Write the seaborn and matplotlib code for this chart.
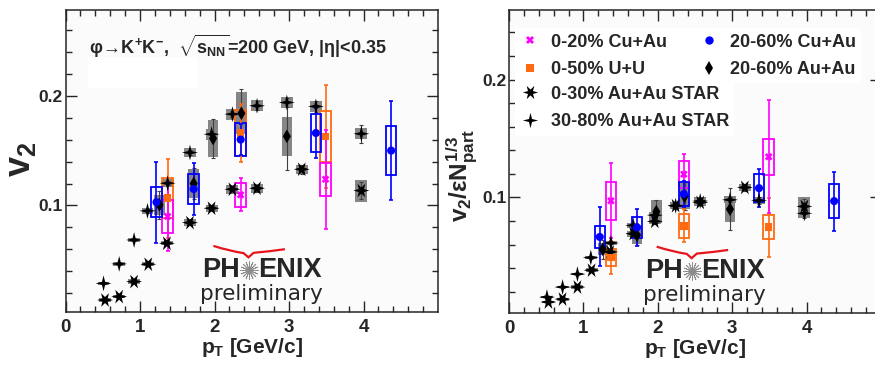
import matplotlib
matplotlib.use('Agg')
import matplotlib.pyplot as plt
import matplotlib.ticker as ticker
from matplotlib import font_manager
from matplotlib.lines import Line2D
from matplotlib.patches import PathPatch, Rectangle
from matplotlib.path import Path
import seaborn as sns
import pandas as pd
import numpy as np

# ---- dados (pT em GeV/c) ----
PT_CUAU_0_20 = [1.37, 2.35, 3.49]
PT_UU = [1.37, 2.35, 3.49]
PT_CUAU_20_60 = [1.22, 1.72, 2.35, 3.36, 4.37]
PT_AUAU = [1.26, 1.72, 1.98, 2.36, 2.97]
PT_STAR_0_30 = [0.53, 0.72, 0.92, 1.11, 1.36, 1.67, 1.96, 2.24, 2.57, 3.17, 3.97]
PT_STAR_30_80 = [0.51, 0.72, 0.92, 1.10, 1.37, 1.67, 1.96, 2.24, 2.57, 2.97, 3.36, 3.97]

# painel esquerdo: v2
V2_CUAU_0_20 = [0.0900, 0.1097, 0.1239]
V2_CUAU_0_20_STAT = [0.031, 0.015, 0.045]
V2_CUAU_0_20_SYS = [0.015, 0.011, 0.015]
V2_UU = [0.1066, 0.1660, 0.1628]
V2_UU_STAT = [0.036, 0.026, 0.047]
V2_UU_SYS = [0.018, 0.021, 0.023]
V2_CUAU_20_60 = [0.1030, 0.1150, 0.1600, 0.1660, 0.1500]
V2_CUAU_20_60_STAT = [0.037, 0.024, 0.014, 0.023, 0.045]
V2_CUAU_20_60_SYS = [0.0135, 0.0135, 0.015, 0.017, 0.022]
V2_AUAU = [0.1005, 0.1200, 0.1610, 0.1840, 0.1630]
V2_AUAU_STAT = [0.013, 0.014, 0.018, 0.022, 0.031]
V2_AUAU_SYS = [0.009, 0.013, 0.017, 0.019, 0.018]
V2_STAR_0_30 = [0.0139, 0.0170, 0.0307, 0.0465, 0.0656, 0.0844, 0.0975, 0.1148, 0.1157, 0.1330, 0.1136]
V2_STAR_0_30_STAT = [0.001, 0.001, 0.001, 0.001, 0.002, 0.002, 0.002, 0.002, 0.003, 0.004, 0.008]
V2_STAR_0_30_SYS = [0.0015, 0.0015, 0.002, 0.002, 0.002, 0.003, 0.003, 0.004, 0.004, 0.004, 0.010]
V2_STAR_30_80 = [0.0291, 0.0468, 0.0686, 0.0951, 0.1203, 0.1482, 0.1649, 0.1832, 0.1908, 0.1938, 0.1902, 0.1653]
V2_STAR_30_80_STAT = [0.001, 0.001, 0.001, 0.002, 0.002, 0.002, 0.003, 0.003, 0.004, 0.004, 0.005, 0.008]
V2_STAR_30_80_SYS = [0.0015, 0.0015, 0.002, 0.003, 0.0035, 0.004, 0.005, 0.005, 0.005, 0.005, 0.005, 0.005]

# painel direito: v2 / (eps * Npart^1/3)
SC_CUAU_0_20 = [0.0972, 0.1197, 0.1345]
SC_CUAU_0_20_STAT = [0.032, 0.017, 0.048]
SC_CUAU_0_20_SYS = [0.016, 0.0115, 0.0155]
SC_UU = [0.0490, 0.0758, 0.0749]
SC_UU_STAT = [0.014, 0.014, 0.025]
SC_UU_SYS = [0.0075, 0.0105, 0.010]
SC_CUAU_20_60 = [0.0665, 0.0746, 0.1030, 0.1079, 0.0969]
SC_CUAU_20_60_STAT = [0.025, 0.016, 0.011, 0.016, 0.025]
SC_CUAU_20_60_SYS = [0.009, 0.0087, 0.010, 0.012, 0.0144]
SC_AUAU = [0.0560, 0.0680, 0.0880, 0.1010, 0.0900]
SC_AUAU_STAT = [0.008, 0.008, 0.010, 0.012, 0.018]
SC_AUAU_SYS = [0.005, 0.0075, 0.0095, 0.011, 0.0105]
SC_STAR_0_30 = [0.0113, 0.0138, 0.0240, 0.0383, 0.0538, 0.0693, 0.0797, 0.0930, 0.0958, 0.1085, 0.0924]
SC_STAR_0_30_STAT = [0.001, 0.001, 0.001, 0.001, 0.0015, 0.0015, 0.002, 0.002, 0.0025, 0.003, 0.006]
SC_STAR_0_30_SYS = [0.0012, 0.0012, 0.0015, 0.0015, 0.002, 0.0025, 0.0025, 0.003, 0.003, 0.003, 0.008]
SC_STAR_30_80 = [0.0155, 0.0240, 0.0350, 0.0490, 0.0614, 0.0763, 0.0850, 0.0930, 0.0970, 0.0980, 0.0975, 0.0865]
SC_STAR_30_80_STAT = [0.001, 0.001, 0.001, 0.001, 0.001, 0.0015, 0.0015, 0.002, 0.002, 0.002, 0.003, 0.004]
SC_STAR_30_80_SYS = [0.001, 0.001, 0.001, 0.0015, 0.002, 0.002, 0.0025, 0.003, 0.003, 0.003, 0.003, 0.004]

LABELS = ['0-20% Cu+Au', '0-50% U+U', '20-60% Cu+Au', '20-60% Au+Au',
          '0-30% Au+Au STAR', '30-80% Au+Au STAR']


def estrela(n, r_in, rot):
    # marcador em forma de estrela com pontas finas
    ang = np.deg2rad(rot) + np.arange(2 * n) * np.pi / n
    r = np.where(np.arange(2 * n) % 2 == 0, 1.0, r_in)
    v = np.column_stack([r * np.cos(ang), r * np.sin(ang)])
    v = np.vstack([v, v[:1]])
    return Path(v, closed=True)


CORES = {LABELS[0]: '#ff00ff', LABELS[1]: '#ff6a10', LABELS[2]: '#0000ff',
         LABELS[3]: 'black', LABELS[4]: 'black', LABELS[5]: 'black'}
MARCADORES = {LABELS[0]: 'X', LABELS[1]: 's', LABELS[2]: 'o', LABELS[3]: 'd',
              LABELS[4]: estrela(6, 0.38, 0), LABELS[5]: estrela(4, 0.28, 90)}
TAMANHOS = {LABELS[0]: 30, LABELS[1]: 30, LABELS[2]: 34, LABELS[3]: 48,
            LABELS[4]: 130, LABELS[5]: 130}
CINZA = '#868686'

sns.set_style('ticks')
nomes = {f.name for f in font_manager.fontManager.ttflist}
NARROW = 'Liberation Sans Narrow' if 'Liberation Sans Narrow' in nomes else 'Liberation Sans'
plt.rcParams['font.family'] = ['Liberation Sans', 'DejaVu Sans']
plt.rcParams['font.weight'] = 'bold'
plt.rcParams['mathtext.fontset'] = 'custom'
plt.rcParams['mathtext.rm'] = 'Liberation Sans:bold'
plt.rcParams['mathtext.it'] = 'Liberation Sans:bold'
plt.rcParams['mathtext.bf'] = 'Liberation Sans:bold'


def monta_df(painel):
    partes = []
    for lab, (pt, val, stat, sys) in zip(LABELS, painel):
        partes.append(pd.DataFrame({'pt': pt, 'val': val, 'stat': stat,
                                    'sys': sys, 'serie': lab}))
    # STAR primeiro, PHENIX colorido por cima
    ordem = [4, 5, 3, 1, 0, 2]
    return pd.concat([partes[i] for i in ordem], ignore_index=True)


def logo(ax):
    cy = 0.140
    ax.text(0.468, cy, 'PH', transform=ax.transAxes, ha='right', va='center',
            fontsize=19.5, fontweight='bold', zorder=6)
    ax.text(0.516, cy, 'ENIX', transform=ax.transAxes, ha='left', va='center',
            fontsize=19.5, fontweight='bold', zorder=6)
    ax.plot([0.492], [cy], transform=ax.transAxes, marker=(16, 2, 0), ms=13,
            mew=0.6, color='0.55', ls='none', zorder=6)
    ax.text(0.525, 0.060, 'preliminary', transform=ax.transAxes, ha='center',
            va='center', fontsize=15.5, fontweight='normal', family='DejaVu Sans', zorder=6)
    verts = [(0.397, 0.219), (0.440, 0.202), (0.478, 0.195), (0.491, 0.181),
             (0.505, 0.196), (0.550, 0.201), (0.589, 0.208)]
    codes = [Path.MOVETO, Path.CURVE3, Path.CURVE3, Path.LINETO,
             Path.LINETO, Path.CURVE3, Path.CURVE3]
    ax.add_patch(PathPatch(Path(verts, codes), transform=ax.transAxes,
                           fill=False, edgecolor='#e8141c', lw=1.6, zorder=6))


def desenha(ax, painel, ylim):
    df = monta_df(painel)
    for lab, g in df.groupby('serie', sort=False):
        cor = CORES[lab]
        larg = 0.16 if 'STAR' in lab else 0.14
        if cor == 'black':
            ax.bar(g['pt'], 2 * g['sys'], bottom=g['val'] - g['sys'], width=larg,
                   color=CINZA, lw=0, zorder=1)
            ax.errorbar(g['pt'], g['val'], yerr=g['stat'], fmt='none', ecolor='0.25',
                        elinewidth=0.8, capsize=1.5, capthick=0.8, zorder=2)
        else:
            ax.bar(g['pt'], 2 * g['sys'], bottom=g['val'] - g['sys'], width=larg,
                   fill=False, edgecolor=cor, lw=1.3, zorder=3)
            ax.errorbar(g['pt'], g['val'], yerr=g['stat'], fmt='none', ecolor=cor,
                        elinewidth=1.2, capsize=1.5, capthick=1.2, zorder=4)
    sns.scatterplot(data=df, x='pt', y='val', hue='serie', style='serie', size='serie',
                    palette=CORES, markers=MARCADORES, sizes=TAMANHOS, linewidth=0,
                    legend=False, ax=ax, zorder=5)

    ax.set_xlim(0, 4.999)
    ax.set_ylim(*ylim)
    ax.xaxis.set_major_locator(ticker.MultipleLocator(1))
    ax.xaxis.set_minor_locator(ticker.MultipleLocator(0.2))
    ax.yaxis.set_major_locator(ticker.MultipleLocator(0.1))
    ax.yaxis.set_minor_locator(ticker.MultipleLocator(0.02))
    ax.yaxis.set_major_formatter(ticker.FuncFormatter(lambda v, p: f'{v:.1f}'))
    ax.tick_params(which='both', direction='in', top=True, right=True, width=1)
    ax.tick_params(which='major', length=8)
    ax.tick_params(which='minor', length=4)
    ax.tick_params(axis='y', labelsize=12.5, pad=2)
    ax.tick_params(axis='x', labelsize=13.5, pad=5)
    for t in ax.get_xticklabels():
        t.set_family(NARROW)
        t.set_fontweight('bold')
    for s in ax.spines.values():
        s.set_linewidth(1.1)
    ax.set_facecolor('#fbfbfb')
    ax.set_xlabel(r'$p_T$ [GeV/c]', fontsize=15, fontweight='bold', family=NARROW)
    ax.xaxis.set_label_coords(0.5, -0.08)
    logo(ax)


fig = plt.figure(figsize=(8.75, 3.66), dpi=100)
fig.patch.set_facecolor('white')
ax1 = fig.add_axes([0.0749, 0.1475, 0.4257, 0.8251])
ax2 = fig.add_axes([0.5817, 0.1448, 0.4251, 0.8279])

painel_esq = [
    (PT_CUAU_0_20, V2_CUAU_0_20, V2_CUAU_0_20_STAT, V2_CUAU_0_20_SYS),
    (PT_UU, V2_UU, V2_UU_STAT, V2_UU_SYS),
    (PT_CUAU_20_60, V2_CUAU_20_60, V2_CUAU_20_60_STAT, V2_CUAU_20_60_SYS),
    (PT_AUAU, V2_AUAU, V2_AUAU_STAT, V2_AUAU_SYS),
    (PT_STAR_0_30, V2_STAR_0_30, V2_STAR_0_30_STAT, V2_STAR_0_30_SYS),
    (PT_STAR_30_80, V2_STAR_30_80, V2_STAR_30_80_STAT, V2_STAR_30_80_SYS),
]
painel_dir = [
    (PT_CUAU_0_20, SC_CUAU_0_20, SC_CUAU_0_20_STAT, SC_CUAU_0_20_SYS),
    (PT_UU, SC_UU, SC_UU_STAT, SC_UU_SYS),
    (PT_CUAU_20_60, SC_CUAU_20_60, SC_CUAU_20_60_STAT, SC_CUAU_20_60_SYS),
    (PT_AUAU, SC_AUAU, SC_AUAU_STAT, SC_AUAU_SYS),
    (PT_STAR_0_30, SC_STAR_0_30, SC_STAR_0_30_STAT, SC_STAR_0_30_SYS),
    (PT_STAR_30_80, SC_STAR_30_80, SC_STAR_30_80_STAT, SC_STAR_30_80_SYS),
]

desenha(ax1, painel_esq, (0.003, 0.278))
desenha(ax2, painel_dir, (0.002, 0.259))

# textos do painel esquerdo
ax1.add_patch(Rectangle((0.06, 0.742), 0.293, 0.102, transform=ax1.transAxes,
                        color='white', lw=0, zorder=0.5))
ax1.text(0.062, 0.925, r'$\varphi\!\rightarrow\!$K$^{+}$K$^{-}$,  $\sqrt{s_{NN}}$=200 GeV, |$\eta$|<0.35',
         transform=ax1.transAxes, ha='left', va='top', fontsize=13, fontweight='bold')
ax1.set_ylabel(r'$v_2$', fontsize=26, fontweight='bold')
ax1.yaxis.set_label_coords(-0.075, 0.505)
ax2.set_ylabel(r'$v_2/\varepsilon N_{part}^{1/3}$', fontsize=17.5, fontweight='bold')
ax2.yaxis.set_label_coords(-0.08, 0.455)

# legenda do painel direito
def handle(lab, ms):
    return Line2D([], [], ls='none', marker=MARCADORES[lab], color=CORES[lab],
                  markersize=ms, markeredgewidth=0, label=lab)

opts = dict(loc='upper left', fontsize=13, frameon=True, facecolor='white',
            edgecolor='none', framealpha=1, fancybox=False, handlelength=1.0,
            handletextpad=0.65, labelspacing=0.58, borderpad=0.3, borderaxespad=0)
h1 = [handle(LABELS[0], 6), handle(LABELS[1], 6), handle(LABELS[2], 6), handle(LABELS[3], 7)]
leg1 = ax2.legend(handles=h1, ncol=2, bbox_to_anchor=(0.0175, 0.94),
                  columnspacing=1.85, **opts)
ax2.add_artist(leg1)
h2 = [handle(LABELS[4], 11), handle(LABELS[5], 11)]
ax2.legend(handles=h2, bbox_to_anchor=(0.0175, 0.768), **opts)

plt.savefig('out.png', dpi=100)
plt.close()
